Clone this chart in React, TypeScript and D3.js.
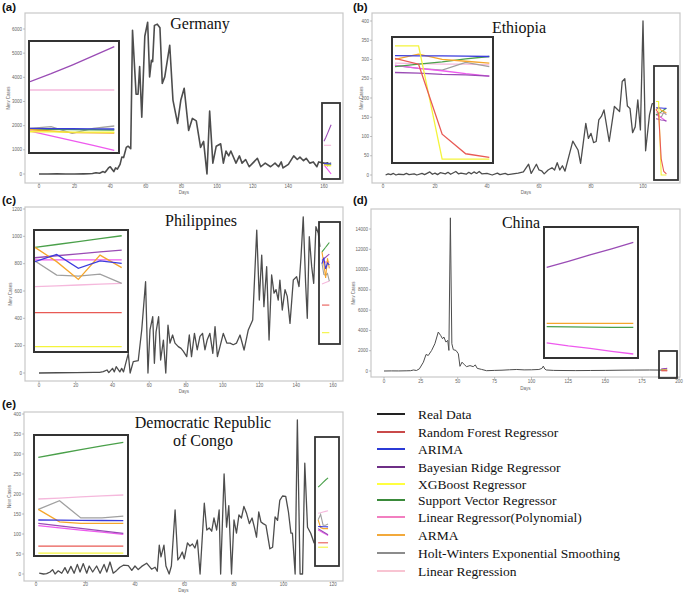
import React from "react";
import * as d3 from "d3";

type Pt = [number, number];

// ---------------- Legend / models ----------------
const modelKeys = ["real", "rf", "arima", "bayes", "xgb", "svr", "poly", "arma", "hw", "lr"];
const modelNames = [
  "Real Data",
  "Random Forest Regressor",
  "ARIMA",
  "Bayesian Ridge Regressor",
  "XGBoost Regressor",
  "Support Vector Regressor",
  "Linear Regressor(Polynomial)",
  "ARMA",
  "Holt-Winters Exponential Smoothing",
  "Linear Regression",
];
const legendColors = ["#222222", "#c94a4a", "#2b3ad6", "#6e2f86", "#ffff40", "#3a8a3a", "#f27fc0", "#f2a93b", "#8c8c8c", "#f8c4d2"];
const plotColors: Record<string, string> = {
  real: "#4d4d4d",
  rf: "#e85a55",
  arima: "#3b3bdc",
  bayes: "#9a4cb5",
  xgb: "#f4f43c",
  svr: "#4aa04a",
  poly: "#ee5aee",
  arma: "#f5a62c",
  hw: "#a0a0a0",
  lr: "#f5b8dc",
};
const drawOrder = ["lr", "hw", "poly", "bayes", "svr", "arma", "arima", "xgb", "rf"];

// ---------------- Germany ----------------
const germanyReal: Pt[] = [[0,0],[5,0],[10,5],[15,0],[20,0],[25,5],[28,10],[30,20],[32,50],[34,30],[36,100],[37,60],[38,150],[39,250],[40,300],[41,200],[42,100],[43,250],[44,200],[45.5,400],[46.5,700],[47.5,680],[49,1100],[50,1150],[51.5,1050],[52.5,5950],[54.5,3300],[55.6,3300],[56.5,4450],[57.7,2350],[59.4,5700],[61,6280],[62.1,4020],[63.1,4700],[63.8,4650],[64.8,6150],[66.4,6200],[67.9,6050],[69.2,3750],[70.6,4020],[73.4,5330],[75.2,3060],[77.8,2095],[79.6,3050],[81.5,3550],[84,1800],[86.1,2300],[88.3,2200],[90.7,1100],[92.4,1350],[94.3,0],[95.8,2600],[97.6,450],[99.5,1150],[102,1250],[103.5,450],[105,950],[106.5,750],[107.7,950],[110.6,450],[112.5,750],[114,450],[116,600],[118,300],[120,450],[122.6,650],[124.5,300],[127,450],[130,300],[132.5,450],[134.5,300],[136,500],[137,250],[140,400],[143,750],[145,600],[146.5,700],[148.5,550],[150,650],[152,450],[154,500],[156,300],[157,500],[160,450],[162.5,460]];
const germanyPredDays = [160, 161, 162, 163, 164];
const germanyPred: Record<string, number[]> = {
  bayes: [1352, 1510, 1680, 1860, 2041],
  lr: [1188, 1188, 1188, 1188, 1188],
  poly: [380, 285, 190, 95, 0],
  svr: [420, 415, 410, 405, 400],
  hw: [433, 466, 335, 433, 479],
  arma: [405, 380, 350, 345, 340],
  xgb: [365, 362, 360, 358, 356],
  arima: [430, 428, 425, 422, 420],
};

// ---------------- Ethiopia ----------------
const ethiopiaReal: Pt[] = [[1,0],[2,3],[3,1],[4,4],[5,0],[6,2],[8,1],[9,4],[10,1],[12,3],[13,0],[15,4],[16,1],[18,8],[19,2],[20,5],[21,1],[22,6],[24,3],[25,7],[26,2],[28,9],[29,3],[30,5],[32,2],[33,7],[34,3],[35,8],[36,4],[37,9],[38,3],[40,4],[42,0],[44,5],[45,1],[47,4],[48,1],[50,3],[52,5],[54,8],[56,28],[57,4],[59,28],[60,13],[61,11],[62,3],[63.5,13],[65,19],[66,13],[67,32],[68,13],[69,24],[70,10],[73,88],[75,65],[76,30],[78,134],[79,95],[80,108],[81,84],[82,87],[83,143],[84,152],[85,169],[87,87],[89,178],[91,165],[92,243],[93,250],[94,179],[95,173],[96,110],[97,125],[98,195],[99,117],[100,400],[101,63],[102.5,156],[103.5,185],[104,186]];
const ethiopiaPredDays = [105, 106, 107, 108, 109];
const ethiopiaPred: Record<string, number[]> = {
  xgb: [191, 191, 0, 0, 0],
  rf: [170, 160, 42, 9, 3],
  arima: [174.5, 174, 174, 173.5, 173],
  arma: [168, 177, 168, 165, 162],
  svr: [156, 160, 164, 169, 173],
  hw: [158, 153, 150, 163, 156],
  lr: [162, 161, 160, 160, 159],
  poly: [158, 153, 149, 144, 140],
  bayes: [146, 145, 143, 142, 140],
};

// ---------------- Philippines ----------------
const philippinesReal: Pt[] = [[0,0],[10,2],[20,3],[30,5],[33,5],[35,10],[37,22],[38,3],[40,34],[41,8],[42,46],[44,8],[45,34],[46,8],[48.6,144],[49.6,0],[51.3,83],[54,90],[55.9,315],[58,668],[59.3,0],[60.4,315],[61.9,412],[62.8,71],[63.7,300],[65.1,412],[66.2,95],[67.7,241],[69,0],[70.2,351],[71.3,219],[72.7,278],[74,219],[75.8,193],[77.3,180],[78.5,160],[80.4,120],[81.8,278],[83,120],[84.6,290],[86.1,170],[87.6,268],[89,290],[90.3,170],[91.5,241],[93,290],[94.6,144],[95.8,339],[97.1,120],[98.5,193],[100.3,290],[102.2,219],[104,219],[105.7,207],[107.5,219],[109.4,278],[111.6,168],[113.9,315],[116.3,388],[118.5,1046],[119.9,534],[121.2,863],[122.4,485],[123.9,778],[125.2,241],[126.6,717],[127.9,585],[129,610],[130.2,534],[131.1,680],[132.4,461],[133.9,610],[135.1,561],[136.6,363],[138.4,680],[140.2,705],[141.5,633],[142.6,851],[143.8,1143],[145.1,656],[146,400],[147.1,997],[148.4,778],[149.5,656],[150.7,1070],[152,1022],[152.9,924]];
const philippinesPredDays = [154, 155, 156, 157, 158];
const philippinesPred: Record<string, number[]> = {
  svr: [886, 903, 920, 938, 955],
  bayes: [824, 836, 847, 859, 870],
  arma: [886, 801, 695, 840, 765],
  arima: [801, 844, 761, 805, 791],
  poly: [812, 812, 812, 812, 812],
  hw: [805, 721, 715, 727, 672],
  lr: [652, 657, 662, 667, 672],
  rf: [497, 497, 497, 497, 497],
  xgb: [295, 295, 295, 295, 295],
};

// ---------------- China ----------------
const chinaReal: Pt[] = [[0,0],[5,10],[10,5],[15,20],[18,30],[20,100],[22,50],[24,215],[26.7,870],[28.5,1630],[30,1530],[32.3,2030],[34.5,2690],[36.8,3840],[38.4,3510],[39.7,3180],[40.6,3350],[42,2850],[43.2,3020],[44,2030],[45,15100],[46,2690],[47,2100],[48.8,2030],[50.4,1700],[51.5,460],[52.9,870],[54.5,620],[56,430],[58.3,530],[60.5,430],[61.9,600],[63.2,260],[66.1,160],[69.5,30],[75,60],[80,80],[85,120],[90,150],[95,110],[100,120],[105,150],[107,250],[108,480],[109,200],[110,100],[115,60],[120,50],[130,40],[140,50],[150,60],[160,80],[170,90],[180,100],[189,90]];
const chinaPredDays = [188, 189, 190, 191, 192];
const chinaPred: Record<string, number[]> = {
  bayes: [212, 224, 237, 249, 262],
  arma: [100, 100, 100, 100, 100],
  svr: [93.2, 93, 92.5, 92, 92],
  poly: [61, 55, 50, 44, 38.6],
  rf: [20, 20, 20, 20, 20],
};

// ---------------- DR Congo ----------------
const congoReal: Pt[] = [[1.3,2],[3,0],[4.3,1],[5.7,5],[6.7,11],[7.7,0],[9,8],[10.4,2],[11.7,16],[12.8,2],[14.1,19],[15.4,2],[16.7,24],[17.8,5],[19.1,26],[20.5,2],[21.5,20],[22.9,5],[24.5,20],[25.9,2],[27.5,24],[28.6,5],[29.9,30],[31.2,2],[32.6,9],[33.9,17],[35.3,22],[37.3,21],[38.7,9],[40,20],[41.3,11],[42.7,19],[44.7,27],[46.7,12],[48.1,17],[49,7],[49.8,72],[50.5,43],[51.7,72],[52.5,20],[53.8,0],[54.7,20],[56.2,160],[57.3,35],[58.2,43],[59.1,55],[59.9,38],[61.2,78],[62.2,70],[63.2,75],[64.2,65],[65.2,85],[66.3,0],[68,177],[69,110],[70,115],[71,107],[71.9,140],[73,110],[74,160],[74.6,0],[76,250],[77,117],[77.9,171],[79,0],[80,135],[81,102],[82,148],[83,140],[84,169],[85.1,151],[86.2,126],[87.3,140],[88.2,118],[89.1,92],[90,155],[90.9,130],[91.8,126],[92.9,122],[94.5,63],[95.6,67],[96.6,143],[97.6,134],[98.5,184],[99.6,195],[100.9,194],[102,155],[103,102],[103.6,102],[104.7,0],[105.6,385],[106.7,0],[107.7,0],[108.6,277],[109.7,117],[111,102],[112.4,77]];
const congoPredDays = [114, 115, 116, 117, 118];
const congoPred: Record<string, number[]> = {
  svr: [217, 223, 229, 235, 240.5],
  lr: [151.7, 153, 155, 156.5, 158],
  hw: [135.5, 149, 122, 122, 125],
  arma: [135.5, 116, 113.5, 113.5, 113.5],
  arima: [118.8, 118.5, 118.2, 118, 117.7],
  bayes: [113.5, 109.6, 105.7, 101.8, 97.9],
  poly: [110, 106.6, 103, 99.7, 96.3],
  rf: [78, 78, 78, 78, 78],
  xgb: [67, 67, 67, 67, 67],
};

// ---------------- Layout ----------------
const panels = [
  {
    id: "a", label: "(a)", labelPos: [2, 11], title: ["Germany"], titlePos: [200, 29],
    frame: [25, 13, 343, 183], xDom: [0, 160], xPix: [39, 324], yDom: [0, 6000], yPix: [174, 29],
    xTicks: [0, 160, 20], yTicks: [0, 6000, 1000], xLabY: 188, daysY: 194, yLabX: 10,
    real: germanyReal, predDays: germanyPredDays, pred: germanyPred, realW: 1.6,
    box: [322, 103, 340, 179], inset: [29, 41, 119, 153],
    ixDom: [160, 164], ixPix: [30, 114.3], iyDom: [0, 2041], iyPix: [150.3, 46.7],
  },
  {
    id: "b", label: "(b)", labelPos: [353, 11], title: ["Ethiopia"], titlePos: [519, 33],
    frame: [372, 13, 680, 183], xDom: [0, 100], xPix: [383, 643], yDom: [0, 400], yPix: [175, 21],
    xTicks: [0, 100, 20], yTicks: [0, 400, 50], xLabY: 188, daysY: 194, yLabX: 363,
    real: ethiopiaReal, predDays: ethiopiaPredDays, pred: ethiopiaPred, realW: 1.3,
    box: [654, 66, 678, 180], inset: [392, 37, 493, 163],
    ixDom: [105, 109], ixPix: [395, 489.3], iyDom: [0, 200], iyPix: [159.1, 40.5],
  },
  {
    id: "c", label: "(c)", labelPos: [2, 204], title: ["Philippines"], titlePos: [201, 226],
    frame: [25, 207, 343, 381], xDom: [0, 160], xPix: [39, 333], yDom: [0, 1200], yPix: [373, 209],
    xTicks: [0, 160, 20], yTicks: [0, 1200, 200], xLabY: 387, daysY: 393, yLabX: 12,
    real: philippinesReal, predDays: philippinesPredDays, pred: philippinesPred, realW: 1.3,
    box: [319, 222, 340, 344], inset: [34, 230, 128, 352],
    ixDom: [154, 158], ixPix: [35, 121.7], iyDom: [0, 1000], iyPix: [396.2, 228.2],
  },
  {
    id: "d", label: "(d)", labelPos: [353, 204], title: ["China"], titlePos: [521, 228],
    frame: [371, 209, 680, 377], xDom: [0, 200], xPix: [384, 679], yDom: [0, 14000], yPix: [371, 229],
    xTicks: [0, 200, 25], yTicks: [0, 14000, 2000], xLabY: 383, daysY: 390, yLabX: 355,
    real: chinaReal, predDays: chinaPredDays, pred: chinaPred, realW: 1.0,
    box: [659, 351, 677, 378], inset: [544, 227, 638, 358],
    ixDom: [188, 192], ixPix: [546.7, 633.3], iyDom: [0, 300], iyPix: [373.3, 223.3],
  },
  {
    id: "e", label: "(e)", labelPos: [2, 408], title: ["Democratic Republic", "of Congo"], titlePos: [203, 428],
    frame: [24, 412, 343, 581], xDom: [0, 120], xPix: [36, 333], yDom: [0, 400], yPix: [574, 414],
    xTicks: [0, 120, 20], yTicks: [0, 400, 50], xLabY: 586, daysY: 592, yLabX: 11,
    real: congoReal, predDays: congoPredDays, pred: congoPred, realW: 1.3,
    box: [315, 437, 339, 566], inset: [34, 435, 128, 556],
    ixDom: [114, 118], ixPix: [38.3, 123.3], iyDom: [0, 260], iyPix: [595.8, 429.9],
  },
];

const legendRowsY = [414, 432, 449, 467, 484, 500, 517, 535, 553, 571];

const SERIF = "'Liberation Serif','Times New Roman',serif";
const SANS = "'Liberation Sans',Arial,sans-serif";

function Panel({ p }: { p: any }) {
  const [fx0, fy0, fx1, fy1] = p.frame;
  const x = d3.scaleLinear().domain(p.xDom).range(p.xPix);
  const y = d3.scaleLinear().domain(p.yDom).range(p.yPix);
  const line = d3.line<Pt>().x((d) => x(d[0])).y((d) => y(d[1]));
  const ix = d3.scaleLinear().domain(p.ixDom).range(p.ixPix);
  const iy = d3.scaleLinear().domain(p.iyDom).range(p.iyPix);
  const iline = d3.line<Pt>().x((d) => ix(d[0])).y((d) => iy(d[1]));
  const xt = d3.range(p.xTicks[0], p.xTicks[1] + 0.001, p.xTicks[2]);
  const yt = d3.range(p.yTicks[0], p.yTicks[1] + 0.001, p.yTicks[2]);
  const series = drawOrder
    .filter((k) => p.pred[k])
    .map((k) => ({ k, pts: p.predDays.map((d: number, i: number) => [d, p.pred[k][i]] as Pt) }));
  const [bx0, by0, bx1, by1] = p.box;
  const [ix0, iy0, ix1, iy1] = p.inset;
  const clipId = `clip-${p.id}`;
  return (
    <g>
      <rect x={fx0} y={fy0} width={fx1 - fx0} height={fy1 - fy0} fill="none" stroke="#c8c8c8" strokeWidth={1.2} />
      {xt.map((t: number) => (
        <g key={"x" + t}>
          <line x1={x(t)} x2={x(t)} y1={fy1} y2={fy1 + 2} stroke="#999" strokeWidth={0.6} />
          <text x={x(t)} y={p.xLabY} fontSize={4.5} fill="#666" textAnchor="middle" fontFamily={SANS}>{t}</text>
        </g>
      ))}
      {yt.map((t: number) => (
        <g key={"y" + t}>
          <line x1={fx0 - 2} x2={fx0} y1={y(t)} y2={y(t)} stroke="#999" strokeWidth={0.6} />
          <text x={fx0 - 3} y={y(t) + 1.5} fontSize={4.5} fill="#666" textAnchor="end" fontFamily={SANS}>{t}</text>
        </g>
      ))}
      <text x={(fx0 + fx1) / 2} y={p.daysY} fontSize={4.5} fill="#666" textAnchor="middle" fontFamily={SANS}>Days</text>
      <text transform={`translate(${p.yLabX},${(fy0 + fy1) / 2}) rotate(-90)`} fontSize={4.5} fill="#666" textAnchor="middle" fontFamily={SANS}>New Cases</text>
      <path d={line(p.real) || ""} fill="none" stroke={plotColors.real} strokeWidth={p.realW} strokeLinejoin="round" />
      {series.map((s) => (
        <path key={"m" + s.k} d={line(s.pts) || ""} fill="none" stroke={plotColors[s.k]} strokeWidth={1.1} />
      ))}
      <rect x={bx0} y={by0} width={bx1 - bx0} height={by1 - by0} fill="none" stroke="#333" strokeWidth={1.8} />
      <clipPath id={clipId}>
        <rect x={ix0 + 1} y={iy0 + 1} width={ix1 - ix0 - 2} height={iy1 - iy0 - 2} />
      </clipPath>
      <rect x={ix0} y={iy0} width={ix1 - ix0} height={iy1 - iy0} fill="#fff" />
      <g clipPath={`url(#${clipId})`}>
        {series.map((s) => (
          <path key={"i" + s.k} d={iline(s.pts) || ""} fill="none" stroke={plotColors[s.k]} strokeWidth={1.3} />
        ))}
      </g>
      <rect x={ix0} y={iy0} width={ix1 - ix0} height={iy1 - iy0} fill="none" stroke="#333" strokeWidth={2} />
      {p.title.map((t: string, i: number) => (
        <text key={t} x={p.titlePos[0]} y={p.titlePos[1] + i * 18} fontSize={16} fill="#111" textAnchor="middle" fontFamily={SERIF}>{t}</text>
      ))}
      <text x={p.labelPos[0]} y={p.labelPos[1]} fontSize={11.5} fontWeight="bold" fill="#111" fontFamily={SANS}>{p.label}</text>
    </g>
  );
}

export default function App() {
  return (
    <svg width={685} height={596} style={{ position: "absolute", left: 0, top: 0, background: "#fff" }}>
      <rect x={0} y={0} width={685} height={596} fill="#fff" />
      {panels.map((p) => (
        <Panel key={p.id} p={p} />
      ))}
      {modelNames.map((name, i) => (
        <g key={name}>
          <line x1={377} x2={405} y1={legendRowsY[i]} y2={legendRowsY[i]} stroke={legendColors[i]} strokeWidth={2} />
          <text x={418} y={legendRowsY[i] + 4.5} fontSize={13.5} fill="#111" fontFamily={SERIF}>{name}</text>
        </g>
      ))}
    </svg>
  );
}
